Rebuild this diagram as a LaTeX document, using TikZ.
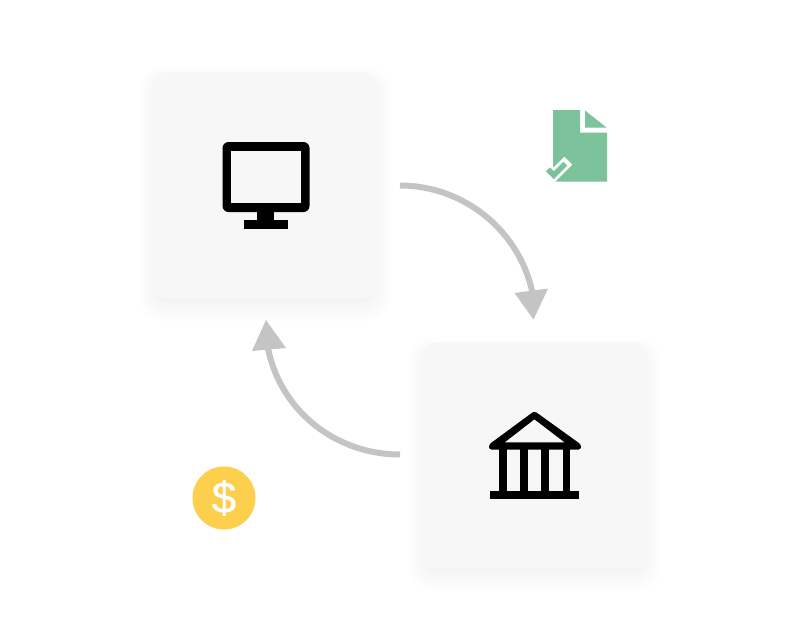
\documentclass[tikz,border=0pt]{standalone}
\usepackage{fontspec}
\setmainfont{Liberation Sans}
\newfontfamily\coinfont[FakeBold=0.6]{Liberation Sans}
\definecolor{cardfill}{HTML}{F7F7F7}
\definecolor{arrowgrey}{HTML}{C4C4C4}
\definecolor{docgreen}{HTML}{7CC39C}
\definecolor{coin}{HTML}{FCCF4D}
\newcommand{\softshadow}[4]{%
  \foreach \s in {14,12,...,-8}{
    \fill[black,fill opacity=0.004,rounded corners=16pt+\s*0.7pt]
      (#1-\s,#2-\s+9) rectangle (#3+\s,#4+\s+9);
  }}
\tikzset{
  card/.style={fill=cardfill,rounded corners=16pt},
  flow/.style={draw=arrowgrey,line width=6pt},
  tip/.style={fill=arrowgrey},
  ink/.style={fill=black},
}
\begin{document}
\begin{tikzpicture}[x=1pt,y=-1pt]
\useasboundingbox (0,0) rectangle (800,640);
\fill[white] (0,0) rectangle (800,640);
% cards
\softshadow{152}{72}{378.5}{298.5}
\softshadow{421.5}{342}{648}{568}
\fill[card] (152,72) rectangle (378.5,298.5);
\fill[card] (421.5,342) rectangle (648,568);
% monitor
\fill[ink,rounded corners=6pt] (222.5,142) rectangle (309.5,212);
\fill[cardfill] (231,150.7) rectangle (300.7,203.3);
\fill[ink] (257.3,211) rectangle (274.3,221);
\fill[ink] (243.7,220.3) rectangle (287.7,229.3);
% document
\fill[docgreen] (553,110) -- (580,110) -- (580,132.7) -- (607,132.7) -- (607,181.7) -- (553,181.7) -- cycle;
\fill[docgreen] (585,110.5) -- (606.7,127.7) -- (585,127.7) -- cycle;
\begin{scope}
\clip (553,150) rectangle (607,181.7);
\draw[white,line width=11pt,line join=miter] (546,167.4) -- (553.8,175.2) -- (568.3,160.7);
\end{scope}
\draw[docgreen,line width=5.6pt,line join=miter] (548,169.4) -- (553.8,175.2) -- (565.3,163.7);
% bank
\fill[ink,rounded corners=2.5pt] (534.4,411) -- (581,444.5) -- (581,449.5) -- (489,449.5) -- (489,444.5) -- cycle;
\fill[cardfill] (534.4,419.5) -- (564.3,442.3) -- (505,442.3) -- cycle;
\fill[ink] (490,490.7) rectangle (579,499);
\foreach \c in {503.2,524.2,545.2,566.5}{
  \fill[ink] (\c-3.85,448) rectangle (\c+3.85,491);
}
% dollar
\node[circle,fill=coin,minimum size=63pt,inner sep=0pt] (coinnode) at (224,498) {};
\node[text=white,font=\coinfont\fontsize{44}{44}\selectfont,inner sep=0pt] (dollar) at (224,498) {\$};
% arrows
\coordinate (a1s) at (400,185.5);
\coordinate (a1e) at (532.5,293);
\coordinate (a2s) at (400,454.5);
\coordinate (a2e) at (268,348);
\draw[flow] (a1s) .. controls (465,185.5) and (520,232) .. (a1e);
\fill[tip] (514.5,293) -- (548,288.5) -- (533.5,319.5) -- cycle;
\draw[flow] (a2s) .. controls (335,454.5) and (280,410) .. (a2e);
\fill[tip] (252,351) -- (286,348) -- (266,320) -- cycle;
\end{tikzpicture}
\end{document}
